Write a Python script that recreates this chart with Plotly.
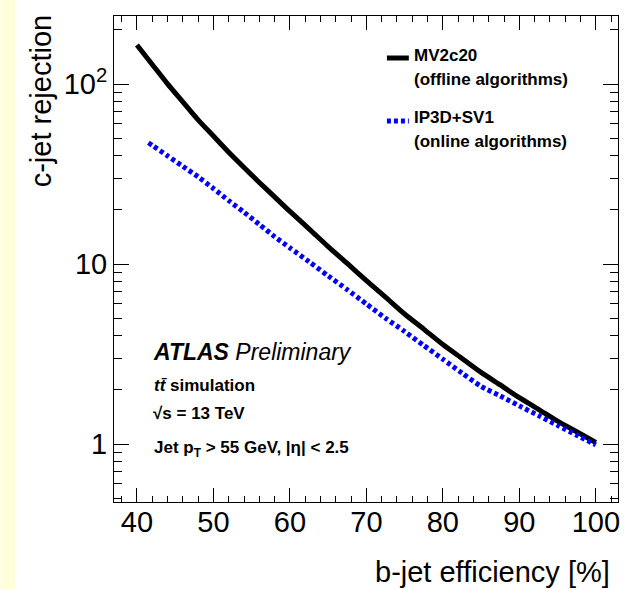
import plotly.graph_objects as go

# ---------------- data ----------------
eff_mv2c20 = [40, 42, 44, 46, 48, 50, 52, 54, 56, 58, 60, 62.5, 65, 67.5, 70,
              72.5, 75, 77.5, 80, 82.5, 85, 87.5, 90, 92.5, 95, 97.5, 100]
rej_mv2c20 = [164.8, 128.5, 100.2, 79.6, 63.2, 51.4, 41.8, 34.4, 28.4, 23.6, 19.6,
              15.7, 12.5, 10.07, 8.09, 6.55, 5.28, 4.35, 3.57, 2.99, 2.50, 2.13,
              1.81, 1.56, 1.34, 1.17, 1.02]

eff_ip3dsv1 = [41.5, 42, 44, 46, 48, 50, 52, 54, 56, 58, 60, 62.5, 65, 67.5, 70,
               72.5, 75, 77.5, 80, 82.5, 85, 87.5, 90, 92.5, 95, 97.5, 100]
rej_ip3dsv1 = [47.2, 45.7, 39.9, 34.9, 30.5, 26.3, 22.5, 19.4, 16.6, 14.2, 12.3,
               10.3, 8.6, 7.2, 6.0, 5.0, 4.22, 3.53, 2.96, 2.48, 2.09, 1.85, 1.63,
               1.44, 1.27, 1.12, 0.99]

x_ticks = [40, 50, 60, 70, 80, 90, 100]
x_minor = [38, 42, 44, 46, 48, 52, 54, 56, 58, 62, 64, 66, 68, 72, 74, 76, 78,
           82, 84, 86, 88, 92, 94, 96, 98, 102]
y_tickvals = [1, 10, 100]
y_ticktext = ["1", "10", "10<sup>2</sup>"]
y_minor = [0.5, 0.6, 0.7, 0.8, 0.9, 2, 3, 4, 5, 6, 7, 8, 9,
           20, 30, 40, 50, 60, 70, 80, 90, 200]

# ---------------- geometry helpers ----------------
W, H = 625, 589
L, R, T, B = 114, 620, 16, 502


def px(x):
    return (x - L) / (R - L)


def py(y):
    return (B - y) / (B - T)


FONT = "Liberation Sans, Arial, Helvetica, sans-serif"

fig = go.Figure()
fig.add_trace(go.Scatter(x=eff_mv2c20, y=rej_mv2c20, mode="lines",
                         line=dict(color="black", width=5, shape="spline", smoothing=0.6),
                         name="MV2c20", showlegend=False))
fig.add_trace(go.Scatter(x=eff_ip3dsv1, y=rej_ip3dsv1, mode="lines",
                         line=dict(color="#0000ff", width=5, dash="4px,3px",
                                   shape="spline", smoothing=0.6),
                         name="IP3D+SV1", showlegend=False))

fig.update_layout(
    width=W, height=H,
    margin=dict(l=L, r=W - R, t=T, b=H - B, pad=0),
    paper_bgcolor="white", plot_bgcolor="white",
    font=dict(family=FONT, color="black"),
    showlegend=False,
)

fig.update_xaxes(
    range=[37.0, 102.9], tickmode="array", tickvals=x_ticks,
    ticks="inside", ticklen=14, tickcolor="black", tickwidth=1,
    showline=True, linecolor="black", linewidth=1, mirror="allticks",
    showgrid=False, zeroline=False, ticklabelstandoff=-6,
    tickfont=dict(size=29, family=FONT, color="black"),
    minor=dict(tickmode="array", tickvals=x_minor, ticks="inside", ticklen=6,
               tickcolor="black", tickwidth=1, showgrid=False),
)
fig.update_yaxes(
    type="log", range=[-0.322, 2.378], tickmode="array",
    tickvals=y_tickvals, ticktext=y_ticktext,
    ticks="inside", ticklen=15, tickcolor="black", tickwidth=1,
    showline=True, linecolor="black", linewidth=1, mirror="allticks",
    showgrid=False, zeroline=False,
    tickfont=dict(size=29, family=FONT, color="black"),
    minor=dict(tickmode="array", tickvals=y_minor, ticks="inside", ticklen=8,
               tickcolor="black", tickwidth=1, showgrid=False),
)

# left yellow strip
fig.add_shape(type="rect", xref="paper", yref="paper",
              x0=px(0), x1=px(15), y0=py(H), y1=py(0),
              fillcolor="#ffffd9", line=dict(width=0), layer="below")

ann = []
# axis titles
ann.append(dict(text="c-jet rejection", x=px(41), y=py(13), xref="paper", yref="paper",
                textangle=-90, xanchor="center", yanchor="top", showarrow=False,
                font=dict(size=29, family=FONT, color="black")))
ann.append(dict(text="b-jet efficiency [%]", x=px(614), y=py(572), xref="paper", yref="paper",
                xanchor="right", yanchor="middle", showarrow=False,
                font=dict(size=29, family=FONT, color="black")))

# ATLAS labels
ann.append(dict(text="<b><i>ATLAS</i></b> <i>Preliminary</i>", x=px(151), y=py(352),
                xref="paper", yref="paper", xanchor="left", yanchor="middle",
                showarrow=False, font=dict(size=23, family=FONT, color="black")))
ann.append(dict(text="<b><i>tt̄</i> simulation</b>", x=px(152), y=py(385),
                xref="paper", yref="paper", xanchor="left", yanchor="middle",
                showarrow=False, font=dict(size=17, family=FONT, color="black")))
ann.append(dict(text="<b>√s = 13 TeV</b>", x=px(151), y=py(413),
                xref="paper", yref="paper", xanchor="left", yanchor="middle",
                showarrow=False, font=dict(size=17, family=FONT, color="black")))
ann.append(dict(text="<b>Jet p<sub>T</sub> > 55 GeV, |η| < 2.5</b>", x=px(152), y=py(449),
                xref="paper", yref="paper", xanchor="left", yanchor="middle",
                showarrow=False, font=dict(size=17, family=FONT, color="black")))

# legend text
for txt, yy in [("MV2c20", 55), ("(offline algorithms)", 79),
                ("IP3D+SV1", 117), ("(online algorithms)", 141)]:
    ann.append(dict(text="<b>" + txt + "</b>", x=px(413), y=py(yy), xref="paper", yref="paper",
                    xanchor="left", yanchor="middle", showarrow=False,
                    font=dict(size=17, family=FONT, color="black")))
fig.update_layout(annotations=ann)

# legend samples
fig.add_shape(type="line", xref="paper", yref="paper", x0=px(388), x1=px(410),
              y0=py(58), y1=py(58), line=dict(color="black", width=5))
fig.add_shape(type="line", xref="paper", yref="paper", x0=px(388), x1=px(410),
              y0=py(121), y1=py(121), line=dict(color="#0000ff", width=5, dash="4px,3px"))

fig.write_html("out.html", config={"displayModeBar": False},
               post_script="document.body.style.margin='0px';")
